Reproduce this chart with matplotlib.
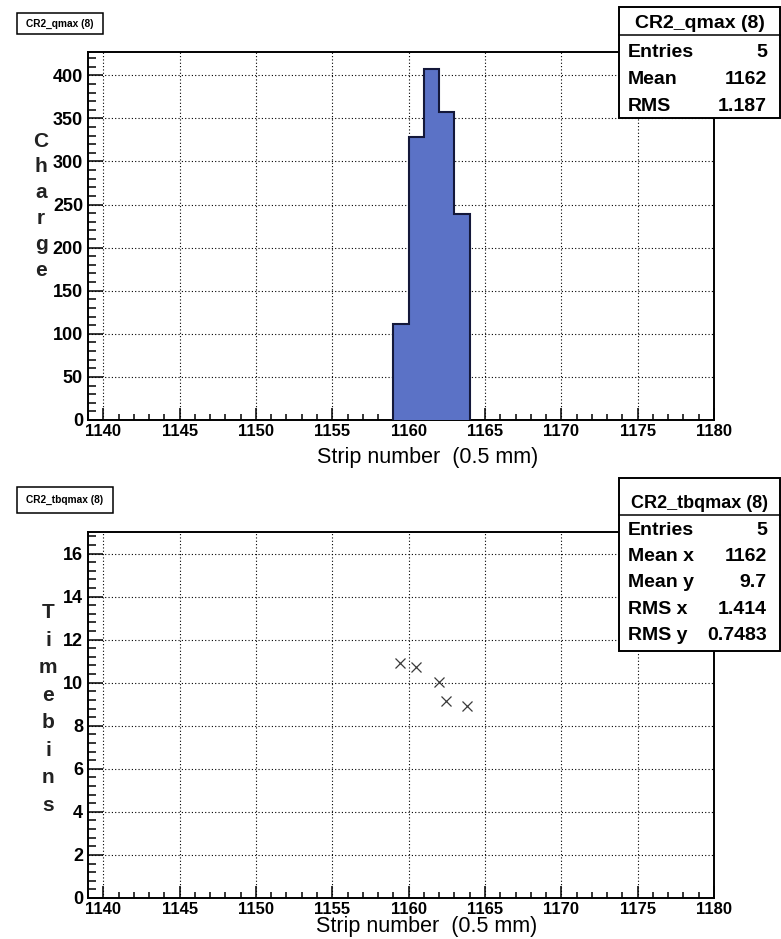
import matplotlib
matplotlib.use("Agg")
import matplotlib.pyplot as plt
from matplotlib.patches import Rectangle
from matplotlib.lines import Line2D
from matplotlib.ticker import MultipleLocator
import numpy as np

plt.rcParams['font.family'] = ['Liberation Sans', 'DejaVu Sans']

W, H = 781, 939

# charge per strip (upper pad)
bin_edges = [1159, 1160, 1161, 1162, 1163, 1164]
charge = [111, 328, 407, 357, 239]
q_stats = [("Entries", "5"), ("Mean", "1162"), ("RMS", "1.187")]

# time bin of max charge per strip (lower pad)
strip_x = [1159.45, 1160.5, 1162.0, 1162.45, 1163.8]
timebin_y = [10.9, 10.75, 10.05, 9.15, 8.9]
tb_stats = [("Entries", "5"), ("Mean x", "1162"), ("Mean y", "9.7"),
            ("RMS x", "1.414"), ("RMS y", "0.7483")]

x_range = (1139, 1180)
x_label = "Strip number  (0.5 mm)"


def fx(x):
    return x / W


def fy(y):
    return 1 - y / H


fig = plt.figure(figsize=(W / 100, H / 100), dpi=100)
fig.patch.set_facecolor("white")


def make_axes(top, bottom):
    ax = fig.add_axes([fx(88), fy(bottom), (714 - 88) / W, (bottom - top) / H])
    for s in ax.spines.values():
        s.set_linewidth(1.4)
    ax.set_xlim(*x_range)
    ax.xaxis.set_major_locator(MultipleLocator(5))
    ax.xaxis.set_minor_locator(MultipleLocator(1))
    ax.tick_params(axis='both', which='both', direction='in', top=False, right=False,
                   width=1.1, color='black')
    ax.tick_params(axis='x', which='major', length=8.6, pad=3, labelsize=12)
    ax.tick_params(axis='x', which='minor', length=4.3)
    ax.tick_params(axis='y', which='major', length=10.8, pad=3.6, labelsize=13)
    ax.tick_params(axis='y', which='minor', length=5.4)
    ax.grid(True, which='major', color='black', linestyle=(0, (1, 2)), linewidth=0.8)
    ax.set_axisbelow(False)
    return ax


def bold_ticks(ax):
    for lab in ax.get_xticklabels() + ax.get_yticklabels():
        lab.set_fontweight('bold')


def title_box(x0, y0, x1, y1, text):
    fig.add_artist(Rectangle((fx(x0), fy(y1)), (x1 - x0) / W, (y1 - y0) / H,
                             transform=fig.transFigure, facecolor='white',
                             edgecolor='black', linewidth=1.1, zorder=5))
    fig.text(fx((x0 + x1) / 2), fy((y0 + y1) / 2), text, ha='center', va='center',
             fontsize=7.3, fontweight='bold', zorder=6)


def stats_box(top, sep, bottom, title, title_size, rows, first_base, step):
    x0, x1 = 619, 780
    fig.add_artist(Rectangle((fx(x0), fy(bottom)), (x1 - x0) / W, (bottom - top) / H,
                             transform=fig.transFigure, facecolor='white',
                             edgecolor='black', linewidth=1.4, zorder=5))
    fig.add_artist(Line2D([fx(x0), fx(x1)], [fy(sep), fy(sep)],
                          transform=fig.transFigure, color='black', linewidth=1.1, zorder=6))
    fig.text(fx((x0 + x1) / 2), fy(sep - 7), title, ha='center', va='baseline',
             fontsize=title_size, fontweight='bold', zorder=7)
    for i, (name, val) in enumerate(rows):
        yb = first_base + i * step
        fig.text(fx(628), fy(yb), name, ha='left', va='baseline',
                 fontsize=14, fontweight='bold', zorder=7)
        fig.text(fx(767), fy(yb), val, ha='right', va='baseline',
                 fontsize=14, fontweight='bold', zorder=7)


def vertical_label(x, yc, letters, spacing):
    n = len(letters)
    for i, ch in enumerate(letters):
        y = yc + (i - (n - 1) / 2) * spacing
        fig.text(fx(x), fy(y), ch, ha='center', va='center', fontsize=15,
                 fontweight='bold', color='#222222')


# upper pad: charge histogram
ax1 = make_axes(52, 420)
ax1.set_ylim(0, 427)
ax1.yaxis.set_major_locator(MultipleLocator(50))
ax1.yaxis.set_minor_locator(MultipleLocator(10))
ax1.stairs(charge, bin_edges, baseline=0, fill=True, color='#5b72c6', zorder=3)
ax1.stairs(charge, bin_edges, baseline=0, fill=False, color='#14183a',
           linewidth=1.5, zorder=4)
bold_ticks(ax1)

fig.text(fx(428), fy(463), x_label, ha='center', va='baseline', fontsize=15.5)
vertical_label(41, 206, "Charge", 26)
title_box(17, 13, 103, 34, "CR2_qmax (8)")
stats_box(7, 35, 118, "CR2_qmax (8)", 14, q_stats, 57, 27)

# lower pad: time bin scatter
ax2 = make_axes(532, 898)
ax2.set_ylim(0, 17)
ax2.yaxis.set_major_locator(MultipleLocator(2))
ax2.yaxis.set_minor_locator(MultipleLocator(0.4))
ax2.plot(strip_x, timebin_y, linestyle='none', marker='x', markersize=6.5,
         markeredgewidth=0.9, color='#3a3a3a', zorder=4)
bold_ticks(ax2)

fig.text(fx(427), fy(932), x_label, ha='center', va='baseline', fontsize=15.5)
vertical_label(48, 709, "Timebins", 27.5)
title_box(17, 487, 113, 513, "CR2_tbqmax (8)")
stats_box(478, 515, 651, "CR2_tbqmax (8)", 13, tb_stats, 535, 26.2)

fig.savefig("out.png", dpi=100)
